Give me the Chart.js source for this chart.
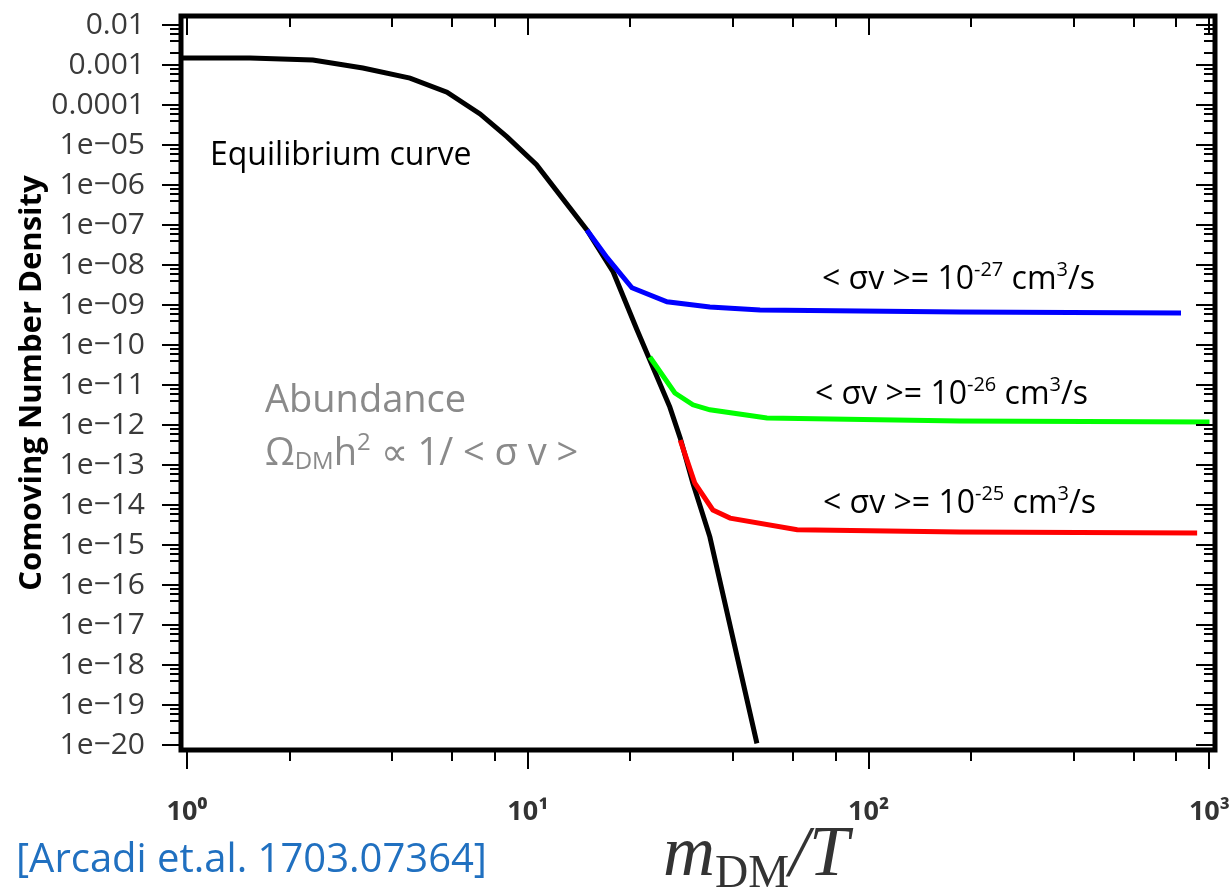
<!DOCTYPE html>
<html>
<head>
<meta charset="utf-8">
<title>Comoving Number Density</title>
<script src="https://cdn.jsdelivr.net/npm/chart.js"></script>
<style>
  html, body { margin: 0; padding: 0; background: #fff; }
  #wrap { width: 1231px; height: 894px; }
</style>
</head>
<body>
<div id="wrap"><canvas id="freezeChart" width="1231" height="894"></canvas></div>
<script>
// values: x = m_DM / T, y = comoving number density
const eqX = [0.97, 1.53, 2.34, 3.28, 4.51, 5.79, 7.24, 8.69, 10.6, 14.9, 17.8, 20.9, 22.8, 26.1, 28.0, 30.5, 34.2, 47.0];
const eqY = [1.5e-3, 1.5e-3, 1.33e-3, 8.4e-4, 4.7e-4, 2.1e-4, 6.0e-5, 1.6e-5, 3.2e-6, 7.5e-8, 6.7e-9, 2.4e-10, 4.2e-11, 2.8e-12, 4.7e-13, 3.5e-14, 1.6e-15, 1.1e-20];

const sv27X = [14.9, 17.1, 20.2, 25.6, 34.2, 48.0, 185, 825];
const sv27Y = [7.5e-8, 1.5e-8, 2.7e-9, 1.2e-9, 8.9e-10, 7.5e-10, 6.7e-10, 6.3e-10];

const sv26X = [22.8, 27.0, 30.5, 34.2, 50.3, 185, 1000];
const sv26Y = [5.0e-11, 6.3e-12, 3.2e-12, 2.4e-12, 1.5e-12, 1.26e-12, 1.19e-12];

const sv25X = [28.0, 30.9, 34.9, 39.2, 61.7, 185, 920];
const sv25Y = [4.2e-13, 3.5e-14, 7.5e-15, 4.7e-15, 2.4e-15, 2.1e-15, 2.0e-15];

const xTickValues = [1, 10, 100, 1000];
const xTickLabels = ['10⁰', '10¹', '10²', '10³'];
const yTickValues = [1e-2, 1e-3, 1e-4, 1e-5, 1e-6, 1e-7, 1e-8, 1e-9, 1e-10, 1e-11, 1e-12, 1e-13, 1e-14, 1e-15, 1e-16, 1e-17, 1e-18, 1e-19, 1e-20];
const yTickLabels = ['0.01', '0.001', '0.0001', '1e−05', '1e−06', '1e−07', '1e−08', '1e−09', '1e−10', '1e−11', '1e−12', '1e−13', '1e−14', '1e−15', '1e−16', '1e−17', '1e−18', '1e−19', '1e−20'];
const minorSteps = [2, 4, 6, 8];

function pts(xs, ys) {
    return xs.map((x, i) => ({ x: x, y: ys[i] }));
}

// majors + minor ticks (2,4,6,8 per decade) inside the range
function logTicks(majors, min, max) {
    const out = [];
    majors.forEach((v, i) => {
        out.push({ value: v, major: true, idx: i });
        minorSteps.forEach(m => {
            const mv = v * m;
            if (mv >= min && mv <= max) out.push({ value: mv, major: false });
        });
    });
    return out.sort((a, b) => a.value - b.value);
}

// draws text pieces one after another (for sub/superscripts)
function richText(ctx, x, y, parts) {
    let cx = x;
    parts.forEach(p => {
        ctx.font = p.font;
        ctx.fillText(p.t, cx, y + (p.dy || 0));
        cx += ctx.measureText(p.t).width;
    });
}

const frameAndTextPlugin = {
    id: 'frameAndText',
    afterDraw(chart) {
        const { ctx, chartArea: a, scales: { x, y } } = chart;
        ctx.save();

        // tick marks: outward on left/bottom, inward on top/right
        ctx.strokeStyle = '#000';
        ctx.lineWidth = 2;
        ctx.beginPath();
        x.ticks.forEach(t => {
            const px = Math.round(x.getPixelForValue(t.value));
            const len = t.major ? 19 : 11;
            ctx.moveTo(px, a.bottom); ctx.lineTo(px, a.bottom + len);
            ctx.moveTo(px, a.top); ctx.lineTo(px, a.top + len);
        });
        y.ticks.forEach(t => {
            const py = Math.round(y.getPixelForValue(t.value));
            const len = t.major ? 19 : 11;
            ctx.moveTo(a.left - len, py); ctx.lineTo(a.left, py);
            ctx.moveTo(a.right - len, py); ctx.lineTo(a.right, py);
        });
        ctx.stroke();

        ctx.lineWidth = 5;
        ctx.strokeRect(a.left, a.top, a.right - a.left, a.bottom - a.top);

        // annotations
        ctx.textAlign = 'left';
        ctx.textBaseline = 'alphabetic';
        ctx.fillStyle = '#000';
        ctx.font = '32px "Open Sans"';
        ctx.fillText('Equilibrium curve', 210, 165);

        const big = '32px "Open Sans"', sup = '20px "Open Sans"';
        [['-27', 822, 289], ['-26', 815, 404], ['-25', 823, 513]].forEach(l => {
            richText(ctx, l[1], l[2], [
                { t: '< σv >= 10', font: big },
                { t: l[0], font: sup, dy: -13 },
                { t: ' cm', font: big },
                { t: '3', font: sup, dy: -13 },
                { t: '/s', font: big }
            ]);
        });

        ctx.fillStyle = '#8a8a8a';
        ctx.font = '38px "Open Sans"';
        ctx.fillText('Abundance', 265, 412);
        richText(ctx, 265, 465, [
            { t: 'Ω', font: '38px "Open Sans"' },
            { t: 'DM', font: '24px "Open Sans"', dy: 4 },
            { t: 'h', font: '38px "Open Sans"' },
            { t: '2', font: '24px "Open Sans"', dy: -15 },
            { t: ' ∝ 1/ < σ v >', font: '38px "Open Sans"' }
        ]);

        // citation and x axis title
        ctx.fillStyle = '#2070c0';
        ctx.font = '40px "Open Sans"';
        ctx.fillText('[Arcadi et.al. 1703.07364]', 16, 872);

        ctx.fillStyle = '#333';
        richText(ctx, 663, 875, [
            { t: 'm', font: 'italic 72px "Liberation Serif"' },
            { t: 'DM', font: '46px "Liberation Serif"', dy: 12 },
            { t: '/T', font: 'italic 72px "Liberation Serif"' }
        ]);

        ctx.restore();
    }
};

const common = { showLine: true, pointRadius: 0, borderWidth: 5, tension: 0, fill: false, borderCapStyle: 'butt' };

new Chart(document.getElementById('freezeChart'), {
    type: 'scatter',
    data: {
        datasets: [
            Object.assign({ label: '<σv> = 1e-27', data: pts(sv27X, sv27Y), borderColor: '#0000ff' }, common),
            Object.assign({ label: '<σv> = 1e-26', data: pts(sv26X, sv26Y), borderColor: '#00ff00' }, common),
            Object.assign({ label: '<σv> = 1e-25', data: pts(sv25X, sv25Y), borderColor: '#ff0000' }, common),
            Object.assign({ label: 'Equilibrium', data: pts(eqX, eqY), borderColor: '#000000' }, common)
        ]
    },
    options: {
        responsive: false,
        animation: false,
        layout: { padding: { top: 16, right: 16, left: 0, bottom: 0 } },
        plugins: {
            legend: { display: false },
            tooltip: { enabled: false }
        },
        scales: {
            x: {
                type: 'logarithmic',
                min: 0.96,
                max: 1038,
                bounds: 'data',
                grid: { display: false, drawTicks: false },
                border: { display: false },
                afterBuildTicks: s => { s.ticks = logTicks(xTickValues, s.min, s.max); },
                afterFit: s => { s.height = 144; s.paddingLeft = 0; s.paddingRight = 0; },
                ticks: {
                    autoSkip: false,
                    maxRotation: 0,
                    padding: 49,
                    color: '#333',
                    font: { family: 'Open Sans', weight: 'bold', size: 27, lineHeight: 1 },
                    callback: (v, i, ticks) => ticks[i].major ? xTickLabels[ticks[i].idx] : ''
                }
            },
            y: {
                type: 'logarithmic',
                min: 7.5e-21,
                max: 0.0168,
                bounds: 'data',
                grid: { display: false, drawTicks: false },
                border: { display: false },
                afterBuildTicks: s => { s.ticks = logTicks(yTickValues, s.min, s.max); },
                afterFit: s => { s.width = 181; s.paddingTop = 0; s.paddingBottom = 0; },
                ticks: {
                    autoSkip: false,
                    padding: 36,
                    color: '#3a3a3a',
                    font: { family: 'Open Sans', size: 30, lineHeight: 1 },
                    callback: (v, i, ticks) => ticks[i].major ? yTickLabels[ticks[i].idx] : ''
                },
                title: {
                    display: true,
                    text: 'Comoving Number Density',
                    color: '#000',
                    font: { family: 'Open Sans', weight: 'bold', size: 31 },
                    padding: { top: 14, bottom: 0 }
                }
            }
        }
    },
    plugins: [frameAndTextPlugin]
});
</script>
</body>
</html>
